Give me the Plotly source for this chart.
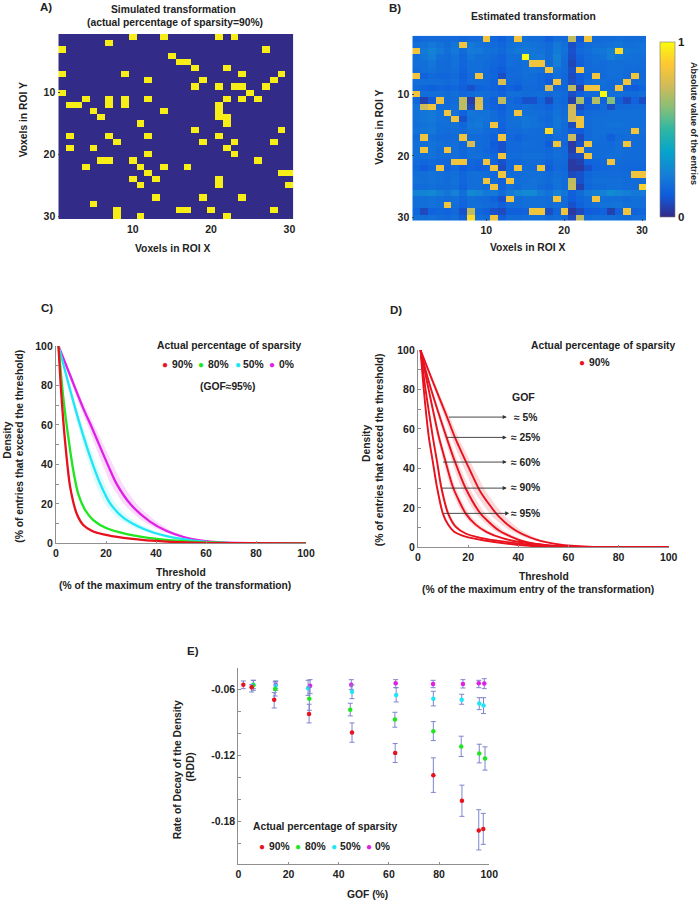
import plotly.graph_objects as go

W, H = 700, 902
FONT = "Liberation Sans"
INK = "#222222"
AX = "#8f8f8f"
RED, GREEN, CYAN, MAGENTA = "#E8121E", "#1FE61F", "#1FE6F5", "#DF1FE6"
PARULA = ["#352a87", "#0f5cdd", "#1481d6", "#06a4ca", "#2eb7a4", "#87bf77", "#d1bb59", "#fec832", "#f9fb0e"]

voxels = list(range(1, 31))

# Panel A: row -> columns holding a non-zero entry
sim_cells = {
    1: [10, 14, 21, 23], 2: [7], 3: [1, 27], 4: [15], 5: [16, 17], 6: [18, 22],
    7: [1, 9, 24, 29], 8: [12, 19, 28], 9: [18, 21, 23, 24, 27], 10: [1, 25],
    11: [4, 7, 9, 12, 22, 24, 26], 12: [2, 3, 7, 9, 21], 13: [5, 14, 21], 14: [6, 21, 22],
    15: [11, 22], 16: [18, 29], 17: [2, 7, 12, 21], 18: [8, 19, 23, 28], 19: [2, 5, 22],
    20: [12, 23], 21: [6, 7, 10, 26], 22: [4, 11, 14, 17], 23: [12, 29, 30], 24: [10, 13, 21],
    25: [11, 21, 30], 26: [], 27: [13, 19, 24], 28: [5], 29: [8, 16, 17, 20, 28], 30: [8, 11, 22],
}

# Panel B: background level of each cell, percent of colour range
est_background = [
    [16,17,18,17,17,18,16,17,18,18,16,14,18,18,19,18,18,14,18,17,8,12,18,17,18,18,19,18,18,18],
    [19,20,22,20,18,21,17,22,20,19,18,16,19,20,21,20,19,17,22,19,9,15,18,19,19,20,21,19,19,20],
    [20,22,26,22,19,22,18,23,22,20,19,17,20,22,23,21,20,18,23,20,10,17,19,21,21,24,20,21,20,20],
    [19,21,24,19,18,20,16,21,19,19,17,15,19,19,19,21,22,18,25,19,9,15,18,19,20,24,21,20,19,19],
    [19,19,21,18,17,20,16,19,19,18,16,15,19,18,19,19,19,18,24,18,7,14,17,19,18,19,19,19,19,18],
    [18,19,20,18,17,19,15,19,19,17,15,13,17,18,19,20,19,17,20,17,9,14,17,18,18,19,19,18,18,17],
    [17,15,17,16,16,18,14,17,18,17,16,9,17,17,19,18,16,15,19,16,8,13,16,17,17,19,19,17,17,17],
    [19,19,19,19,18,19,15,18,18,17,15,13,17,16,18,18,16,13,19,16,9,13,18,19,19,18,18,17,17,18],
    [17,16,14,16,15,16,14,10,15,16,15,13,15,13,17,17,16,14,16,16,10,6,16,17,18,17,16,14,13,16],
    [19,19,19,19,18,19,16,18,19,18,17,15,19,19,18,18,19,17,19,17,9,14,17,18,19,19,19,18,18,19],
    [16,6,12,17,17,18,72,5,78,17,14,72,17,15,10,10,16,8,18,16,5,68,12,70,15,62,14,8,15,9],
    [20,20,17,18,18,19,16,8,18,17,15,13,18,17,19,18,17,15,19,17,9,8,14,14,18,9,17,17,18,18],
    [20,21,22,20,19,20,15,21,20,20,18,15,19,19,19,19,19,17,20,18,14,14,17,18,18,19,19,19,19,19],
    [20,21,22,20,19,20,10,20,21,20,18,16,19,20,21,20,18,16,21,19,14,14,18,19,19,19,19,19,19,19],
    [19,20,21,19,19,20,16,21,22,19,18,15,19,19,21,20,19,17,21,18,8,14,18,19,19,20,20,19,19,19],
    [20,21,22,19,18,19,17,20,20,18,17,14,18,18,19,18,18,16,20,17,13,13,17,19,19,19,19,19,19,19],
    [18,18,19,17,17,18,16,18,18,17,15,14,17,15,17,18,18,16,19,17,9,8,17,19,18,14,18,18,18,18],
    [19,19,20,19,18,19,16,19,18,17,13,10,17,17,19,19,18,13,18,16,4,10,17,18,18,17,19,18,18,18],
    [19,19,20,18,18,19,16,19,18,16,14,10,17,17,18,18,18,16,19,17,5,8,17,18,18,18,19,18,18,18],
    [19,19,20,18,18,19,16,19,19,18,16,13,18,18,19,19,19,17,19,18,8,9,14,18,18,19,19,18,18,18],
    [17,16,17,16,16,18,14,16,15,15,15,10,16,16,18,18,18,15,18,17,4,6,15,16,17,17,18,17,17,17],
    [16,13,16,16,15,17,13,15,14,15,13,8,16,16,18,17,17,13,17,16,4,4,10,15,16,17,17,16,16,16],
    [19,19,20,19,18,19,16,19,19,18,16,10,18,18,19,19,19,17,19,18,8,10,16,18,18,18,18,17,18,19],
    [20,19,20,19,18,20,16,19,19,19,17,14,18,19,19,20,19,18,20,18,9,10,17,19,19,19,19,18,18,18],
    [18,18,19,18,18,19,15,19,19,18,17,15,19,18,20,20,18,16,20,18,8,6,16,18,18,19,19,18,18,19],
    [25,26,27,24,21,25,19,28,26,22,22,18,23,26,28,28,23,20,25,21,14,18,22,24,25,29,26,24,22,23],
    [19,19,20,19,18,19,16,19,18,17,15,10,18,18,19,19,19,18,19,17,13,16,18,19,19,19,19,18,19,19],
    [19,19,20,19,18,19,15,19,19,18,17,14,18,18,19,19,19,18,19,17,10,15,18,19,20,20,21,19,19,19],
    [16,8,15,16,15,17,10,72,16,14,10,8,14,14,15,16,16,9,16,16,4,8,13,14,15,6,15,16,15,16],
    [19,19,20,18,17,19,14,19,19,18,16,14,18,18,19,19,19,17,19,17,8,14,18,19,19,19,19,18,19,19],
]
# Panel B: value of the recovered entries, default then the ones that differ (row, col, percent)
est_peak_default = 84
est_peak_other = [
    (1, 21, 72), (4, 15, 100), (9, 18, 76), (9, 21, 72), (10, 25, 100), (11, 4, 82),
    (11, 7, 72), (11, 9, 78), (11, 12, 72), (11, 22, 68), (11, 24, 70), (11, 26, 62),
    (12, 2, 75), (12, 7, 72), (12, 9, 80), (12, 21, 75), (13, 21, 76), (14, 21, 76),
    (16, 18, 92), (17, 21, 74), (18, 8, 76), (24, 21, 72), (25, 21, 73), (29, 8, 72),
    (30, 8, 92), (30, 22, 72), (3, 27, 92), (25, 30, 90), (8, 12, 78),
]

# Panel C curves
c_x_90 = [1, 2, 3.6, 5.6, 8.3, 10.9, 14.3, 19, 27, 40, 52, 70, 100]
c_y_90 = [100, 78, 52, 29, 15, 9.3, 6.4, 4.5, 2.8, 1.2, 0.4, 0.05, 0]
c_b_90 = [0, 0.1, 0.2, 0.3, 0.4, 0.5, 0.5, 0.5, 0.5, 0.3, 0, 0, 0]
c_x_80 = [1, 2.9, 4.9, 6.9, 8.9, 11.6, 14.9, 20.3, 28.3, 40.3, 53.6, 70, 100]
c_y_80 = [100, 74, 54, 37, 25, 17, 11.8, 7.6, 4.7, 2.2, 0.8, 0.1, 0]
c_b_80 = [0, 0.2, 0.3, 0.4, 0.5, 0.6, 0.8, 1, 1, 0.8, 0.4, 0, 0]
c_x_50 = [1, 5.6, 9.6, 13.6, 17.6, 21.6, 26.9, 34.9, 44.3, 55, 68, 100]
c_y_50 = [100, 78, 60, 44, 30.4, 20.3, 13, 7.4, 3.6, 1.4, 0.2, 0]
c_b_50 = [0, 0.5, 0.9, 1.3, 1.8, 2.2, 2.5, 2.5, 2, 1, 0, 0]
c_x_0 = [1, 5.6, 10.9, 14.3, 17.6, 21, 24.3, 30, 37.6, 44.3, 51, 57.6, 66, 78, 100]
c_y_0 = [100, 85.3, 68.4, 58.8, 49, 39, 30, 19.5, 11, 6.2, 3.2, 1.5, 0.4, 0.05, 0]
c_b_0 = [0, 0.5, 1, 1.4, 1.8, 2.1, 2.4, 2.6, 2.6, 2.2, 1.6, 1, 0.3, 0, 0]

# Panel D curves
d_x_5 = [1, 5.6, 11.6, 14.9, 21, 24.9, 32.3, 39, 46.9, 56.3, 68, 100]
d_y_5 = [100, 85, 66, 55.2, 38.3, 28.2, 15.5, 8.5, 4, 1.4, 0.3, 0]
d_b_5 = [0, 0.5, 1, 1.4, 2, 2.3, 2.5, 2.3, 1.8, 0.9, 0, 0]
d_x_25 = [1, 4.3, 10.9, 15, 18.9, 24.9, 32.3, 41.6, 52, 66, 100]
d_y_25 = [100, 84, 57.5, 42.5, 30.2, 17.2, 8.5, 3.2, 0.9, 0.1, 0]
d_b_25 = [0, 0.3, 0.8, 1.2, 1.6, 1.9, 1.9, 1.4, 0.6, 0, 0]
d_x_60 = [1, 3.5, 8.3, 11, 14, 19, 23, 27.6, 34, 42, 55, 70, 100]
d_y_60 = [100, 84.5, 56, 43.4, 30.3, 17.2, 11.5, 7.6, 4.5, 2.4, 0.7, 0.1, 0]
d_b_60 = [0, 0.2, 0.6, 0.8, 1, 1.3, 1.4, 1.4, 1.2, 0.8, 0.2, 0, 0]
d_x_90 = [1, 3, 5.9, 7.6, 9.3, 12, 15, 19, 25, 33.6, 50, 70, 100]
d_y_90 = [100, 80, 56, 43.4, 30.3, 17.2, 10.5, 7, 4.8, 3, 0.8, 0.1, 0]
d_b_90 = [0, 0.1, 0.3, 0.4, 0.5, 0.6, 0.8, 0.8, 0.8, 0.6, 0.2, 0, 0]
d_x_95 = [1, 2.3, 4.3, 5.9, 7.6, 9.9, 12, 14.3, 19, 26, 40, 55, 100]
d_y_95 = [100, 80, 56, 43.4, 30.3, 17.2, 11.5, 8, 5.4, 3.6, 1.2, 0.2, 0]
d_b_95 = [0, 0.1, 0.2, 0.2, 0.3, 0.4, 0.4, 0.5, 0.5, 0.5, 0.2, 0, 0]

# Panel E points: GOF, RDD, error bar top and bottom
e_x_90 = [2.0, 5.3, 14.3, 28.2, 45.3, 62.5, 77.7, 89.1, 95.8, 97.6]
e_y_90 = [-0.0555, -0.0579, -0.0691, -0.0821, -0.0991, -0.1176, -0.1379, -0.1612, -0.1882, -0.1870]
e_t_90 = [-0.0521, -0.0555, -0.0627, -0.0733, -0.0903, -0.1091, -0.1221, -0.1470, -0.1694, -0.1727]
e_b_90 = [-0.0591, -0.0621, -0.0767, -0.0903, -0.1079, -0.1264, -0.1536, -0.1754, -0.2060, -0.2009]
e_x_80 = [6.0, 14.7, 28.3, 44.6, 62.4, 77.7, 88.8, 96.0, 98.3]
e_y_80 = [-0.0561, -0.0594, -0.0682, -0.0782, -0.0873, -0.0979, -0.1118, -0.1182, -0.1227]
e_t_80 = [-0.0515, -0.0530, -0.0576, -0.0724, -0.0806, -0.0891, -0.1024, -0.1097, -0.1121]
e_b_80 = [-0.0606, -0.0658, -0.0788, -0.0839, -0.0942, -0.1064, -0.1209, -0.1267, -0.1333]
e_x_50 = [6.0, 14.9, 27.8, 45.3, 62.9, 77.7, 89.0, 96.0, 97.7]
e_y_50 = [-0.0555, -0.0564, -0.0588, -0.0618, -0.0648, -0.0682, -0.0691, -0.0727, -0.0745]
e_t_50 = [-0.0515, -0.0521, -0.0515, -0.0558, -0.0582, -0.0615, -0.0642, -0.0673, -0.0673]
e_b_50 = [-0.0591, -0.0606, -0.0652, -0.0682, -0.0712, -0.0748, -0.0733, -0.0782, -0.0818]
e_x_0 = [14.9, 28.6, 45.0, 62.7, 77.6, 89.5, 95.8, 98.0]
e_y_0 = [-0.0555, -0.0564, -0.0555, -0.0542, -0.0548, -0.0548, -0.0542, -0.0545]
e_t_0 = [-0.0524, -0.0509, -0.0509, -0.0509, -0.0515, -0.0509, -0.0515, -0.0500]
e_b_0 = [-0.0591, -0.0636, -0.0600, -0.0582, -0.0582, -0.0585, -0.0582, -0.0591]

matrix_ticks = [10, 20, 30]
percent_ticks = list(range(0, 101, 10))
percent_labels = ["0", "", "20", "", "40", "", "60", "", "80", "", "100"]
gof_ticks = [0, 20, 40, 60, 80, 100]
rdd_ticks = [-0.04, -0.06, -0.08, -0.10, -0.12, -0.14, -0.16, -0.18, -0.20, -0.22]
rdd_labels = ["", "-0.06", "", "", "-0.12", "", "", "-0.18", "", ""]


def xdom(a, b):
    return [a / W, b / W]


def ydom(top, bottom):
    return [1 - bottom / H, 1 - top / H]


def rgba(hex_color, alpha):
    r, g, b = int(hex_color[1:3], 16), int(hex_color[3:5], 16), int(hex_color[5:7], 16)
    return f"rgba({r},{g},{b},{alpha})"


fig = go.Figure()
notes = []


def label(text, x, y, size=10.3, angle=0, color=INK, bold=True):
    notes.append(dict(
        text=f"<b>{text}</b>" if bold else text, x=x / W, y=1 - y / H, xref="paper", yref="paper",
        xanchor="center", yanchor="middle", showarrow=False, textangle=angle,
        font=dict(family=FONT, size=size, color=color),
    ))


def dot(x, y, color):
    label("●", x, y, size=10, color=color, bold=False)


# Panel A
sim_z = [[0] * 30 for _ in voxels]
for row, cols in sim_cells.items():
    for col in cols:
        sim_z[row - 1][col - 1] = 1
fig.add_trace(go.Heatmap(
    z=sim_z, x=voxels, y=voxels, zmin=0, zmax=1, xaxis="x", yaxis="y", showscale=False,
    colorscale=[[0, "#322c88"], [1, "#f7ee17"]], hoverongaps=False,
))

# Panel B
est_z = [[v / 100 for v in row] for row in est_background]
for row, cols in sim_cells.items():
    for col in cols:
        est_z[row - 1][col - 1] = est_peak_default / 100
for row, col, val in est_peak_other:
    est_z[row - 1][col - 1] = val / 100
fig.add_trace(go.Heatmap(
    z=est_z, x=voxels, y=voxels, zmin=0, zmax=1, xaxis="x2", yaxis="y2",
    colorscale=[[i / 8, c] for i, c in enumerate(PARULA)],
    colorbar=dict(
        x=660 / W, xanchor="left", xpad=0, y=1 - 216.7 / H, yanchor="bottom", ypad=0,
        len=175 / H, thickness=15, tickvals=[0, 1], ticktext=["<b>0</b>", "<b>1</b>"],
        ticks="", outlinewidth=0.6, outlinecolor="#777777",
        tickfont=dict(family=FONT, size=11.5, color=INK),
    ),
))


def curve(xs, ys, dx, color, xa, ya, width=2.3, alpha=0.16):
    hi = [a + b for a, b in zip(xs, dx)]
    lo = [a - b for a, b in zip(xs, dx)]
    fig.add_trace(go.Scatter(
        x=hi + lo[::-1], y=ys + ys[::-1], mode="lines", fill="toself", fillcolor=rgba(color, alpha),
        line=dict(width=0, shape="spline", smoothing=0.7), xaxis=xa, yaxis=ya, showlegend=False, hoverinfo="skip",
    ))
    fig.add_trace(go.Scatter(
        x=xs, y=ys, mode="lines", line=dict(color=color, width=width, shape="spline", smoothing=0.7),
        xaxis=xa, yaxis=ya, showlegend=False,
    ))


curve(c_x_0, c_y_0, c_b_0, MAGENTA, "x3", "y3")
curve(c_x_50, c_y_50, c_b_50, CYAN, "x3", "y3")
curve(c_x_80, c_y_80, c_b_80, GREEN, "x3", "y3")
curve(c_x_90, c_y_90, c_b_90, RED, "x3", "y3")
for xs, ys, dx in [(d_x_5, d_y_5, d_b_5), (d_x_25, d_y_25, d_b_25), (d_x_60, d_y_60, d_b_60),
                   (d_x_90, d_y_90, d_b_90), (d_x_95, d_y_95, d_b_95)]:
    curve(xs, ys, dx, RED, "x4", "y4", width=1.9)

# Panel E
for xs, ys, top, bottom, color in [
    (e_x_0, e_y_0, e_t_0, e_b_0, MAGENTA), (e_x_50, e_y_50, e_t_50, e_b_50, CYAN),
    (e_x_80, e_y_80, e_t_80, e_b_80, GREEN), (e_x_90, e_y_90, e_t_90, e_b_90, RED),
]:
    fig.add_trace(go.Scatter(
        x=xs, y=ys, mode="markers", marker=dict(color=color, size=4.5), xaxis="x5", yaxis="y5", showlegend=False,
        error_y=dict(
            type="data", symmetric=False, color="#7f84cf", thickness=1, width=2.5,
            array=[t - y for t, y in zip(top, ys)], arrayminus=[y - b for b, y in zip(bottom, ys)],
        ),
    ))

tick_font = dict(family=FONT, size=10.5, color=INK, weight="bold")
matrix_axis = dict(
    tickmode="array", tickvals=matrix_ticks, ticks="inside", ticklen=2, tickwidth=0.8, tickcolor="#444444",
    tickfont=tick_font, showgrid=False, zeroline=False, range=[0.5, 30.5], showline=False, ticklabelstandoff=2,
)
curve_axis_x = dict(
    tickmode="array", tickvals=percent_ticks[::2], range=[0, 100], ticks="inside", ticklen=2, tickcolor=AX,
    tickfont=tick_font, showgrid=False, zeroline=False, showline=True, linecolor=AX, linewidth=1.2,
)
curve_axis_y = dict(
    tickmode="array", tickvals=percent_ticks, ticktext=percent_labels, range=[0, 100], ticks="inside", ticklen=3,
    tickcolor=AX, tickfont=tick_font, showgrid=False, zeroline=False, showline=True, linecolor=AX, linewidth=1.2,
)

fig.update_layout(
    width=W, height=H, margin=dict(l=0, r=0, t=0, b=0, autoexpand=False), paper_bgcolor="white", plot_bgcolor="white",
    showlegend=False, font=dict(family=FONT, color=INK),
    xaxis=dict(matrix_axis, domain=xdom(58.3, 293.3), anchor="y"),
    yaxis=dict(matrix_axis, domain=ydom(34, 219.3), anchor="x", range=[30.5, 0.5]),
    xaxis2=dict(matrix_axis, domain=xdom(412.3, 646), anchor="y2"),
    yaxis2=dict(matrix_axis, domain=ydom(35.7, 220.7), anchor="x2", range=[30.5, 0.5]),
    xaxis3=dict(curve_axis_x, domain=xdom(56, 306), anchor="y3"),
    yaxis3=dict(curve_axis_y, domain=ydom(346, 543.3), anchor="x3"),
    xaxis4=dict(curve_axis_x, domain=xdom(418, 668.7), anchor="y4"),
    yaxis4=dict(curve_axis_y, domain=ydom(350, 547.3), anchor="x4"),
    xaxis5=dict(curve_axis_x, domain=xdom(238.3, 489.3), anchor="y5", tickvals=gof_ticks),
    yaxis5=dict(curve_axis_y, domain=ydom(667.7, 864.3), anchor="x5", tickvals=rdd_ticks, ticktext=rdd_labels,
                range=[-0.2191, -0.04]),
)

# Panel letters, titles, axis labels
label("A)", 46, 7.5, 11.5)
label("B)", 395, 8, 11.5)
label("C)", 46.7, 308, 11.5)
label("D)", 396, 310, 11.5)
label("E)", 192.7, 650.7, 11.5)
label("Simulated transformation", 173.3, 9.7)
label("(actual percentage of sparsity=90%)", 175, 22.7)
label("Estimated transformation", 533.7, 16.7)
label("Voxels in ROI X", 172.7, 248.3)
label("Voxels in ROI Y", 23.3, 120, angle=-90)
label("Voxels in ROI X", 527.3, 247.3)
label("Voxels in ROI Y", 380, 126.7, angle=-90)
label("Absolute value of the entries", 694, 123, 9, 90)

label("Threshold", 181, 572.7)
label("(% of the maximum entry of the transformation)", 175, 585.3)
label("Density", 6.7, 440, angle=-90)
label("(% of entries that exceed the threshold)", 20, 446.7, angle=-90)
label("Actual percentage of sparsity", 228.7, 345)
for x_dot, x_txt, txt, color in [(164.7, 182.3, "90%", RED), (201.3, 218, "80%", GREEN),
                                 (237.7, 253.7, "50%", CYAN), (272, 286, "0%", MAGENTA)]:
    dot(x_dot, 364.7, color)
    label(txt, x_txt, 364.7)
label("(GOF≈95%)", 227, 386)

label("Threshold", 543.7, 576.7)
label("(% of the maximum entry of the transformation)", 538, 589.3)
label("Density", 366.7, 443.3, angle=-90)
label("(% of entries that exceed the threshold)", 379.3, 450, angle=-90)
label("Actual percentage of sparsity", 602.7, 345)
dot(581.7, 362.3, RED)
label("90%", 599.3, 362.3)
label("GOF", 523.7, 396.7, 10.5)
for txt, y_txt, x_start, x_end, y_val in [
    ("≈ 5%", 417, 11.7, 35.4, 66), ("≈ 25%", 437.3, 10.8, 35.4, 55.7), ("≈ 60%", 462.3, 9.4, 35.4, 43.2),
    ("≈ 90%", 487.7, 9, 35.4, 30), ("≈ 95%", 513.3, 9.7, 36.4, 17.2),
]:
    label(txt, 525, y_txt)
    notes.append(dict(
        x=x_end, y=y_val, ax=x_start, ay=y_val, xref="x4", yref="y4", axref="x4", ayref="y4", text="",
        showarrow=True, arrowhead=2, arrowsize=0.9, arrowwidth=0.9, arrowcolor="#333333",
    ))

label("Rate of Decay of the Density", 177.3, 770, angle=-90)
label("(RDD)", 190.7, 766.7, angle=-90)
label("GOF (%)", 367.3, 894)
label("Actual percentage of sparsity", 325.3, 826.7)
for x_dot, x_txt, txt, color in [(261.7, 279, "90%", RED), (298, 315, "80%", GREEN),
                                 (334.3, 350.7, "50%", CYAN), (369, 382.7, "0%", MAGENTA)]:
    dot(x_dot, 846.7, color)
    label(txt, x_txt, 846.7)

fig.update_layout(annotations=notes)
fig.write_html(
    "out.html",
    config={"displayModeBar": False},
    post_script="document.body.style.margin='0';document.documentElement.style.overflow='hidden';",
)
